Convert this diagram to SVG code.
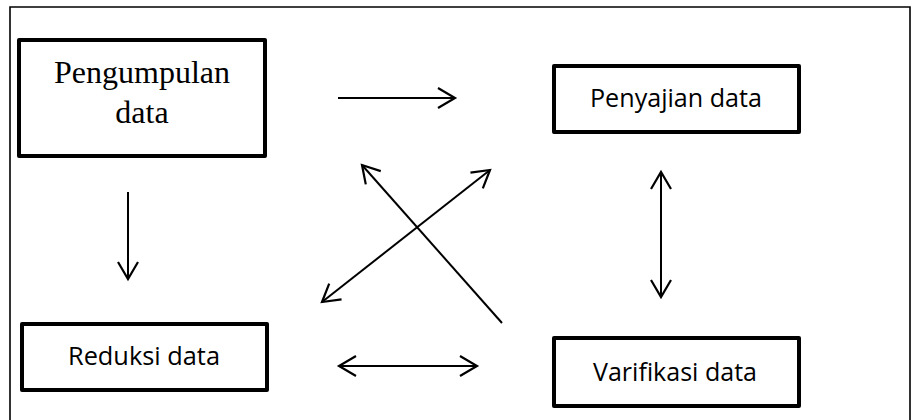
<svg xmlns="http://www.w3.org/2000/svg" width="913" height="420" viewBox="0 0 913 420">
<style>
.box{fill:#fff;stroke:#000;stroke-width:4;stroke-linejoin:round}
.lbl{font-family:"Open Sans","Liberation Sans",sans-serif;font-size:25px;fill:#000;text-anchor:middle}
.ser{font-family:"Liberation Serif","Times New Roman",serif;font-size:32px;fill:#000;text-anchor:middle}
.con{stroke:#000;stroke-width:2;fill:none}
</style>
<defs>
<marker id="ah" markerUnits="userSpaceOnUse" markerWidth="22" markerHeight="26" viewBox="-19 -13 22 26" refX="0" refY="0" orient="auto-start-reverse">
<path d="M-17,-10 L0,0 L-17,10" fill="none" stroke="#000" stroke-width="2.2"/>
</marker>
</defs>
<rect width="913" height="420" fill="#fff"/>
<path d="M10,420 V7 H910 V420" fill="none" stroke="#000" stroke-width="1.6"/>
<g id="pengumpulan">
<rect class="box" x="19" y="40" width="246" height="116"/>
<text class="ser" x="142" y="83">Pengumpulan</text>
<text class="ser" x="142" y="123">data</text>
</g>
<g id="penyajian">
<rect class="box" x="554" y="66" width="245" height="66"/>
<text class="lbl" x="676" y="107" textLength="172" lengthAdjust="spacingAndGlyphs">Penyajian data</text>
</g>
<g id="reduksi">
<rect class="box" x="22" y="324" width="245" height="66"/>
<text class="lbl" x="144" y="365" textLength="152" lengthAdjust="spacingAndGlyphs">Reduksi data</text>
</g>
<g id="varifikasi">
<rect class="box" x="554" y="338" width="245" height="68"/>
<text class="lbl" x="675" y="381" textLength="164" lengthAdjust="spacingAndGlyphs">Varifikasi data</text>
</g>
<g id="connectors">
<line class="con" x1="338" y1="98" x2="455" y2="98" marker-end="url(#ah)"/>
<line class="con" x1="128" y1="192" x2="128" y2="279" marker-end="url(#ah)"/>
<line class="con" x1="661" y1="172" x2="661" y2="297" marker-start="url(#ah)" marker-end="url(#ah)"/>
<line class="con" x1="339" y1="366" x2="477" y2="366" marker-start="url(#ah)" marker-end="url(#ah)"/>
<line class="con" x1="502" y1="323" x2="362" y2="165" marker-end="url(#ah)"/>
<line class="con" x1="322" y1="302" x2="490" y2="170" marker-start="url(#ah)" marker-end="url(#ah)"/>
</g>
</svg>
